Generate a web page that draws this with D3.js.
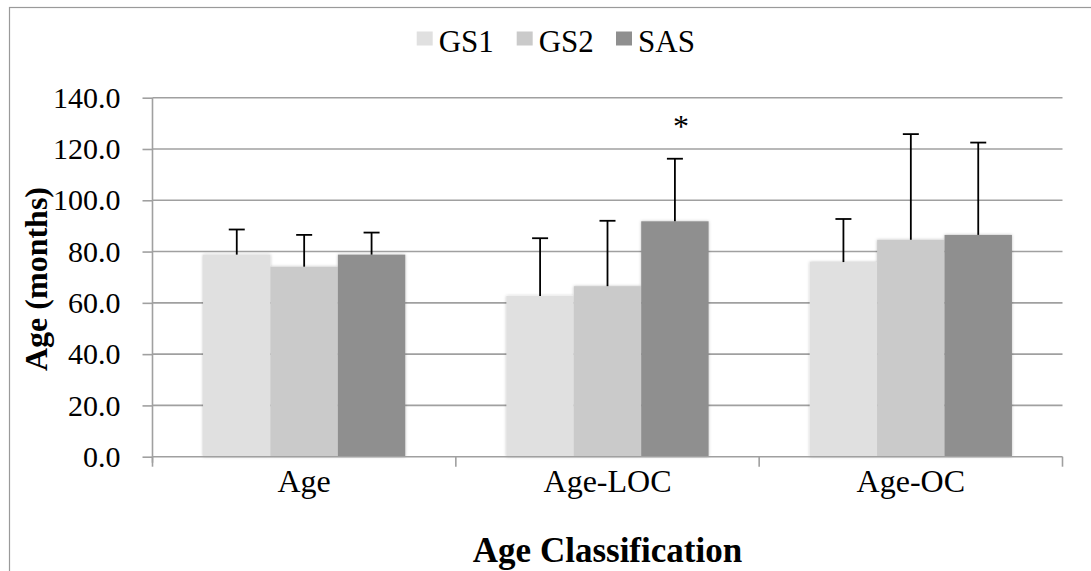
<!DOCTYPE html>
<html>
<head>
<meta charset="utf-8">
<script src="https://cdn.jsdelivr.net/npm/d3@7"></script>
<style>
  html, body { margin: 0; padding: 0; background: #fff; }
  svg { display: block; }
  svg text { font-family: "Liberation Serif", "Times New Roman", serif !important; fill: #000; }
</style>
</head>
<body>
<svg id="chart" width="1091" height="571"></svg>
<script>
// ---- data ----
const categories = ["Age", "Age-LOC", "Age-OC"];
const seriesNames = ["GS1", "GS2", "SAS"];
const seriesColors = ["#e0e0e0", "#cacaca", "#8f8f8f"];
const gs1Values = [78.8, 62.7, 75.9];
const gs1Errors = [9.8, 22.5, 16.8];
const gs2Values = [74.1, 66.5, 84.6];
const gs2Errors = [12.4, 25.5, 41.2];
const sasValues = [78.8, 91.8, 86.5];
const sasErrors = [8.6, 24.4, 36.0];
const yTicks = [0, 20, 40, 60, 80, 100, 120, 140];
const significance = [{ category: "Age-LOC", series: "SAS", label: "*", value: 131 }];

const seriesValues = [gs1Values, gs2Values, sasValues];
const seriesErrors = [gs1Errors, gs2Errors, sasErrors];

// ---- layout ----
const FONT = '"Liberation Serif", "Times New Roman", serif';
const svg = d3.select("#chart");
const plotLeft = 152.5, plotRight = 1062.5, plotTop = 97.7, plotBottom = 456.7;

const defs = svg.append("defs");
const f = defs.append("filter").attr("id", "shadow")
  .attr("x", "-10%").attr("y", "-10%").attr("width", "120%").attr("height", "120%");
f.append("feDropShadow").attr("dx", 0).attr("dy", 0).attr("stdDeviation", 1.5)
  .attr("flood-color", "#000").attr("flood-opacity", 0.25);

// outer frame (extends past right & bottom edges)
svg.append("rect").attr("x", 9.5).attr("y", 7.5).attr("width", 1200).attr("height", 700)
  .attr("fill", "none").attr("stroke", "#9a9a9a").attr("stroke-width", 1.2);

const x0 = d3.scaleBand().domain(categories).range([plotLeft, plotRight]).paddingInner(0).paddingOuter(0);
const groupPad = 0.75 / 4.5; // Excel gap width 150%
const x1 = d3.scaleBand().domain(seriesNames)
  .range([x0.bandwidth() * groupPad, x0.bandwidth() * (1 - groupPad)]).padding(0);
const y = d3.scaleLinear().domain([0, 140]).range([plotBottom, plotTop]);

// gridlines
svg.append("g").selectAll("line").data(yTicks.filter(d => d > 0)).join("line")
  .attr("x1", plotLeft).attr("x2", plotRight)
  .attr("y1", d => y(d)).attr("y2", d => y(d))
  .attr("stroke", "#a0a0a0").attr("stroke-width", 1.6);

// bars
const data = [];
categories.forEach((c, ci) => seriesNames.forEach((s, si) => {
  data.push({ c, s, si, v: seriesValues[si][ci], e: seriesErrors[si][ci] });
}));

svg.append("g").attr("filter", "url(#shadow)").selectAll("rect").data(data).join("rect")
  .attr("x", d => x0(d.c) + x1(d.s))
  .attr("width", x1.bandwidth())
  .attr("y", d => y(d.v))
  .attr("height", d => y(0) - y(d.v))
  .attr("fill", d => seriesColors[d.si]);

// error bars
const eb = svg.append("g").attr("stroke", "#000").attr("stroke-width", 1.8);
eb.selectAll("line.v").data(data).join("line").attr("class", "v")
  .attr("x1", d => x0(d.c) + x1(d.s) + x1.bandwidth() / 2)
  .attr("x2", d => x0(d.c) + x1(d.s) + x1.bandwidth() / 2)
  .attr("y1", d => y(d.v)).attr("y2", d => y(d.v + d.e));
eb.selectAll("line.c").data(data).join("line").attr("class", "c")
  .attr("x1", d => x0(d.c) + x1(d.s) + x1.bandwidth() / 2 - 8)
  .attr("x2", d => x0(d.c) + x1(d.s) + x1.bandwidth() / 2 + 8)
  .attr("y1", d => y(d.v + d.e)).attr("y2", d => y(d.v + d.e));

// x axis line
svg.append("line").attr("x1", plotLeft).attr("x2", plotRight).attr("y1", y(0)).attr("y2", y(0))
  .attr("stroke", "#a0a0a0").attr("stroke-width", 1.6);
// x axis ticks at category boundaries
const boundaries = categories.map(c => x0(c)).concat([plotRight]);
svg.append("g").selectAll("line").data(boundaries).join("line")
  .attr("x1", d => d).attr("x2", d => d).attr("y1", y(0)).attr("y2", y(0) + 10)
  .attr("stroke", "#a0a0a0").attr("stroke-width", 1.6);

// y axis
const yAxis = d3.axisLeft(y).tickValues(yTicks).tickFormat(d3.format(".1f")).tickSizeOuter(0).tickSize(10).tickPadding(22);
const yg = svg.append("g").attr("transform", `translate(${plotLeft},0)`).call(yAxis)
  .attr("font-family", FONT).attr("font-size", 30);
yg.select(".domain").attr("stroke", "#a0a0a0").attr("stroke-width", 1.6)
  .attr("d", `M0,${y(140)}V${y(0) + 6}`);
yg.selectAll(".tick line").attr("stroke", "#a0a0a0").attr("stroke-width", 1.6);
yg.selectAll(".tick text").style("font-family", FONT).style("font-size", "30px").attr("fill", "#000");

// category labels
svg.append("g").selectAll("text").data(categories).join("text")
  .attr("x", d => x0(d) + x0.bandwidth() / 2).attr("y", 492)
  .attr("text-anchor", "middle").style("font-family", FONT).style("font-size", "32px").text(d => d);

// axis titles
svg.append("text").attr("x", (plotLeft + plotRight) / 2).attr("y", 562)
  .attr("text-anchor", "middle").style("font-family", FONT).style("font-size", "35px").style("font-weight", "bold")
  .text("Age Classification");
svg.append("text").attr("transform", `translate(47,279) rotate(-90)`)
  .attr("text-anchor", "middle").style("font-family", FONT).style("font-size", "32px").style("font-weight", "bold")
  .text("Age (months)");

// significance marker
svg.append("g").selectAll("text").data(significance).join("text")
  .attr("x", d => x0(d.category) + x1(d.series) + x1.bandwidth() / 2 + 6)
  .attr("y", d => y(d.value) + 16)
  .attr("text-anchor", "middle").style("font-family", FONT).style("font-size", "32px").text(d => d.label);

// legend
const legendX = [416.7, 516.7, 616];
const lg = svg.append("g").selectAll("g").data(seriesNames).join("g")
  .attr("transform", (d, i) => `translate(${legendX[i]},0)`);
lg.append("rect").attr("x", 0).attr("y", 31.5).attr("width", 16).attr("height", 14)
  .attr("fill", (d, i) => seriesColors[i]);
lg.append("text").attr("x", 22).attr("y", 51.5).style("font-family", FONT).style("font-size", "31px").text(d => d);
</script>
</body>
</html>
